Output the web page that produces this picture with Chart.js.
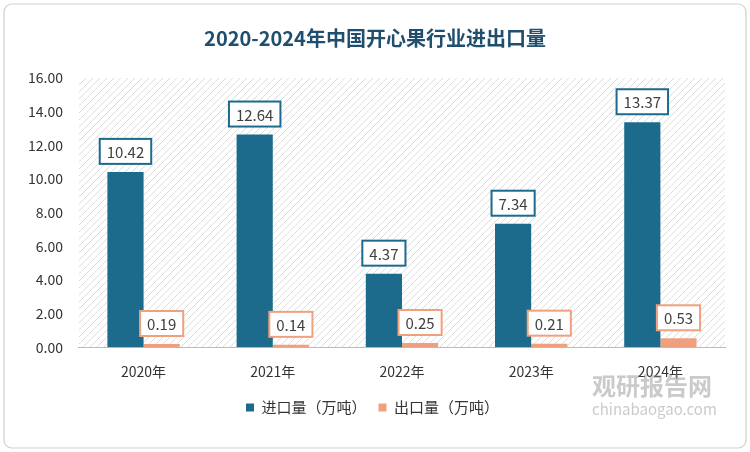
<!DOCTYPE html>
<html><head><meta charset="utf-8">
<script src="https://cdn.jsdelivr.net/npm/chart.js@4"></script>
<style>html,body{margin:0;padding:0;background:#fff}#w{position:relative;width:750px;height:452px}</style>
</head><body><div id="w"><canvas id="c" width="750" height="452"></canvas></div>
<script>
const categories=["2020年","2021年","2022年","2023年","2024年"];
const importVals=[10.42,12.64,4.37,7.34,13.37];
const exportVals=[0.19,0.14,0.25,0.21,0.53];
const yTicks=[0,2,4,6,8,10,12,14,16];
const BLUE="#1c6a8c",ORANGE="#f0a07e";
const FONT="'Microsoft YaHei','Noto Sans CJK SC',sans-serif";

const deco={id:'deco',
 beforeDraw(ch){const {ctx,chartArea:a}=ch;ctx.save();
  ctx.strokeStyle="#cfcfcf";ctx.lineWidth=1.2;
  const r=8,x=4,y=4,w=742,h=444;ctx.beginPath();ctx.roundRect(x,y,w,h,r);ctx.stroke();
  ctx.beginPath();ctx.rect(a.left,a.top,a.right-a.left,a.bottom-a.top);ctx.clip();
  ctx.strokeStyle="#dcdcdc";ctx.lineWidth=1;ctx.beginPath();
  for(let s=a.left-(a.bottom-a.top);s<a.right;s+=7){ctx.moveTo(s,a.bottom);ctx.lineTo(s+(a.bottom-a.top),a.top);}
  ctx.stroke();ctx.restore();
  ctx.save();ctx.fillStyle="#1f4e6e";ctx.font="bold 20px "+FONT;ctx.textAlign="center";ctx.textBaseline="middle";
  ctx.fillText("2020-2024年中国开心果行业进出口量",375,38);ctx.restore();},
 afterDraw(ch){const {ctx}=ch;ctx.save();
  ch.data.datasets.forEach((ds,i)=>{const m=ch.getDatasetMeta(i);const col=i?ORANGE:BLUE;
   m.data.forEach((b,j)=>{const t=ds.data[j].toFixed(2);ctx.font="15px "+FONT;
    const w=ctx.measureText(t).width+14,h=25;const cx=b.x,by=b.y-8;
    ctx.fillStyle="#fff";ctx.strokeStyle=col;ctx.lineWidth=2;
    ctx.fillRect(cx-w/2,by-h,w,h);ctx.strokeRect(cx-w/2,by-h,w,h);
    ctx.fillStyle="#404040";ctx.textAlign="center";ctx.textBaseline="middle";ctx.fillText(t,cx,by-h/2+1);});});
  ctx.globalAlpha=0.45;ctx.fillStyle="#8a8a8a";ctx.font="bold 24px "+FONT;ctx.textAlign="left";ctx.textBaseline="middle";
  ctx.fillText("观研报告网",592,386);ctx.font="15px "+FONT;ctx.fillText("chinabaogao.com",592,409);
  ctx.restore();}};

new Chart(document.getElementById('c'),{type:'bar',
 data:{labels:categories,datasets:[
  {label:"进口量（万吨）",data:importVals,backgroundColor:BLUE},
  {label:"出口量（万吨）",data:exportVals,backgroundColor:ORANGE}]},
 options:{responsive:false,animation:false,devicePixelRatio:1,
  layout:{padding:{top:78,right:25,left:20,bottom:27}},
  datasets:{bar:{categoryPercentage:0.56,barPercentage:1}},
  plugins:{legend:{position:'bottom',labels:{boxWidth:8,boxHeight:8,padding:12,color:'#333',font:{size:15,family:FONT}}},tooltip:{enabled:false}},
  scales:{x:{grid:{display:false},border:{color:'#bbb'},ticks:{color:'#333',font:{size:14,family:FONT},padding:8}},
   y:{min:0,max:16,afterBuildTicks(s){s.ticks=yTicks.map(v=>({value:v}));},grid:{display:false},border:{display:false},
    ticks:{color:'#333',font:{size:14,family:FONT},padding:8,callback:v=>v.toFixed(2)}}}},
 plugins:[deco]});
</script></body></html>
